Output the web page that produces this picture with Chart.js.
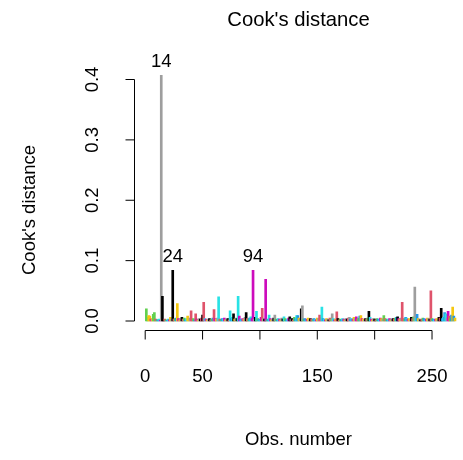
<!DOCTYPE html>
<html>
<head>
<meta charset="utf-8">
<script src="https://cdn.jsdelivr.net/npm/chart.js@4"></script>
<style>
  body { margin: 0; background: #fff; }
  #wrap { width: 463px; height: 460px; }
</style>
</head>
<body>
<div id="wrap"><canvas id="cookChart"></canvas></div>
<script>
// Cook's distance per observation (obs 1..270)
const cook = [
  0.020, 0.006, 0.009, 0.008, 0.003, 0.004, 0.011, 0.014, 0.003, 0.002,
  0.002, 0.003, 0.001, 0.407, 0.041, 0.002, 0.003, 0.002, 0.001, 0.003,
  0.002, 0.006, 0.003, 0.084, 0.003, 0.004, 0.005, 0.029, 0.004, 0.002,
  0.004, 0.006, 0.003, 0.005, 0.002, 0.004, 0.008, 0.003, 0.005, 0.017,
  0.003, 0.004, 0.002, 0.012, 0.003, 0.002, 0.004, 0.003, 0.005, 0.010,
  0.031, 0.004, 0.003, 0.002, 0.003, 0.004, 0.002, 0.003, 0.005, 0.019,
  0.004, 0.003, 0.005, 0.040, 0.003, 0.002, 0.004, 0.003, 0.005, 0.002,
  0.003, 0.004, 0.002, 0.017, 0.004, 0.006, 0.012, 0.003, 0.005, 0.004,
  0.041, 0.008, 0.003, 0.002, 0.004, 0.003, 0.006, 0.014, 0.004, 0.003,
  0.005, 0.007, 0.004, 0.084, 0.003, 0.006, 0.016, 0.004, 0.003, 0.002,
  0.006, 0.021, 0.004, 0.003, 0.069, 0.002, 0.003, 0.010, 0.004, 0.002,
  0.003, 0.005, 0.010, 0.003, 0.002, 0.004, 0.003, 0.002, 0.005, 0.003,
  0.007, 0.004, 0.002, 0.003, 0.005, 0.007, 0.003, 0.004, 0.002, 0.006,
  0.004, 0.009, 0.009, 0.005, 0.003, 0.020, 0.025, 0.003, 0.004, 0.002,
  0.003, 0.005, 0.002, 0.004, 0.003, 0.002, 0.004, 0.003, 0.002, 0.005,
  0.004, 0.010, 0.006, 0.023, 0.004, 0.003, 0.002, 0.004, 0.003, 0.002,
  0.005, 0.003, 0.012, 0.004, 0.002, 0.003, 0.015, 0.004, 0.002, 0.003,
  0.002, 0.004, 0.003, 0.002, 0.004, 0.003, 0.005, 0.006, 0.003, 0.004,
  0.003, 0.006, 0.004, 0.007, 0.003, 0.005, 0.008, 0.009, 0.004, 0.003,
  0.002, 0.004, 0.003, 0.005, 0.016, 0.006, 0.003, 0.002, 0.004, 0.003,
  0.002, 0.004, 0.003, 0.002, 0.005, 0.004, 0.003, 0.009, 0.004, 0.003,
  0.002, 0.003, 0.004, 0.002, 0.003, 0.004, 0.003, 0.005, 0.006, 0.007,
  0.004, 0.003, 0.005, 0.031, 0.004, 0.003, 0.006, 0.005, 0.003, 0.004,
  0.002, 0.006, 0.004, 0.007, 0.056, 0.005, 0.011, 0.004, 0.003, 0.002,
  0.003, 0.005, 0.004, 0.002, 0.003, 0.005, 0.004, 0.003, 0.050, 0.004,
  0.003, 0.002, 0.003, 0.004, 0.002, 0.006, 0.005, 0.021, 0.004, 0.006,
  0.014, 0.012, 0.005, 0.016, 0.008, 0.004, 0.010, 0.023, 0.008, 0.005
];
const obs = cook.map((v, i) => i + 1);
const idLabels = [14, 24, 94];
const xTicks = [0, 50, 100, 150, 200, 250];
const xTickLabels = ['0', '50', '', '150', '', '250'];
const yTicks = [0, 0.1, 0.2, 0.3, 0.4];
const yTickLabels = ['0.0', '0.1', '0.2', '0.3', '0.4'];
const yTitle = "Cook's distance";

// R default palette
const pal = ['#000000', '#DF536B', '#61D04F', '#2297E6', '#28E2E5', '#CD0BBC', '#F5C710', '#9E9E9E'];
const colOverride = {
  1: 2, 3: 6, 4: 6, 7: 2, 8: 2, 14: 7, 15: 0, 24: 0, 28: 6, 37: 6, 40: 1, 44: 1,
  50: 0, 51: 1, 60: 1, 64: 4, 74: 4, 77: 0, 81: 4, 82: 5, 88: 0, 94: 5, 97: 4,
  102: 1, 105: 5, 108: 4, 113: 7, 121: 4, 126: 0, 133: 3, 136: 0, 137: 7, 152: 1,
  154: 4, 163: 7, 167: 1, 178: 7, 184: 5, 188: 6, 195: 0, 208: 2, 220: 0, 224: 1,
  235: 7, 237: 3, 249: 1, 258: 0, 261: 3, 262: 4, 264: 5, 268: 6, 269: 3
};
const barColors = obs.map(i => pal[colOverride[i] !== undefined ? colOverride[i] : i % 8]);

const font = '"Liberation Sans", Arial, sans-serif';
const fs = 18.5;
const tickLen = 9;

// R-style axes (line only between first and last tick), y label and point labels
const rAxes = {
  id: 'rAxes',
  afterDraw(chart) {
    const { ctx, chartArea, scales: { x, y } } = chart;
    ctx.save();
    ctx.strokeStyle = '#000';
    ctx.lineWidth = 1;
    ctx.beginPath();
    const by = Math.round(chartArea.bottom) + 0.5;
    ctx.moveTo(x.getPixelForValue(xTicks[0]), by);
    ctx.lineTo(x.getPixelForValue(xTicks[xTicks.length - 1]), by);
    xTicks.forEach(v => {
      const px = x.getPixelForValue(v);
      ctx.moveTo(px, by);
      ctx.lineTo(px, by + tickLen);
    });
    const lx = Math.round(chartArea.left) + 0.5;
    ctx.moveTo(lx, y.getPixelForValue(yTicks[0]));
    ctx.lineTo(lx, y.getPixelForValue(yTicks[yTicks.length - 1]));
    yTicks.forEach(v => {
      const py = y.getPixelForValue(v);
      ctx.moveTo(lx, py);
      ctx.lineTo(lx - tickLen, py);
    });
    ctx.stroke();

    ctx.font = fs + 'px ' + font;
    ctx.fillStyle = '#000';
    ctx.textAlign = 'center';
    ctx.textBaseline = 'middle';
    idLabels.forEach(i => {
      ctx.fillText(String(i), x.getPixelForValue(i), y.getPixelForValue(cook[i - 1]) - 13);
    });

    ctx.translate(30, 210);
    ctx.rotate(-Math.PI / 2);
    ctx.fillText(yTitle, 0, 0);
    ctx.restore();
  }
};

const ctx = document.getElementById('cookChart');

new Chart(ctx, {
  type: 'bar',
  data: {
    datasets: [{
      label: "Cook's distance",
      data: obs.map((o, i) => ({ x: o, y: cook[i] })),
      backgroundColor: barColors,
      borderWidth: 0,
      barThickness: 2
    }]
  },
  options: {
    responsive: true,
    maintainAspectRatio: false,
    animation: false,
    layout: { padding: 0 },
    plugins: {
      legend: { display: false },
      tooltip: { enabled: false },
      title: {
        display: true,
        text: "Cook's distance",
        fullSize: false,
        color: '#000',
        font: { family: font, size: 20.3, weight: 'normal' },
        padding: { top: 8, bottom: 14 }
      }
    },
    scales: {
      x: {
        type: 'linear',
        offset: false,
        min: -9.76,
        max: 277,
        grid: { display: false, drawTicks: false },
        border: { display: false },
        afterBuildTicks: s => { s.ticks = xTicks.map(v => ({ value: v })); },
        afterFit: s => { s.height = 130; s.paddingLeft = 0; s.paddingRight = 0; },
        ticks: {
          autoSkip: false,
          maxRotation: 0,
          padding: 36,
          color: '#000',
          font: { family: font, size: fs },
          callback: (v, i) => xTickLabels[i]
        },
        title: {
          display: true,
          text: 'Obs. number',
          color: '#000',
          font: { family: font, size: fs },
          padding: { top: 0, bottom: 9 }
        }
      },
      y: {
        min: -0.0149,
        max: 0.4549,
        grid: { display: false, drawTicks: false },
        border: { display: false },
        afterBuildTicks: s => { s.ticks = yTicks.map(v => ({ value: v })); },
        afterFit: s => { s.width = 134; s.paddingTop = 0; s.paddingBottom = 0; },
        ticks: {
          autoSkip: false,
          minRotation: 90,
          maxRotation: 90,
          crossAlign: 'center',
          padding: 28,
          color: '#000',
          font: { family: font, size: fs },
          callback: (v, i) => yTickLabels[i]
        },
        title: { display: false }
      }
    }
  },
  plugins: [rAxes]
});
</script>
</body>
</html>
